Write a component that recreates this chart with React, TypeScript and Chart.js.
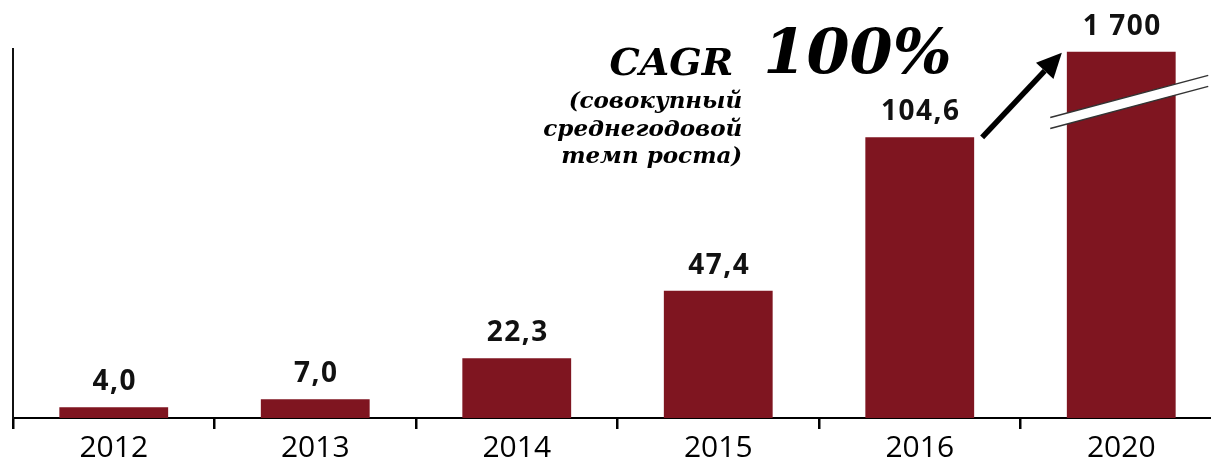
import React, { useEffect, useRef } from "react";
import { Chart, registerables } from "chart.js";

Chart.register(...registerables);

// ---- data ----
const categories = ["2012", "2013", "2014", "2015", "2016", "2020"];
const values = [4.0, 7.0, 22.3, 47.4, 104.6, 1700];
const valueLabels = ["4,0", "7,0", "22,3", "47,4", "104,6", "1 700"];
const brokenIndex = 5; // the 2020 bar is drawn on a broken axis
const axisMax = 137.5;
const brokenBarValue = 136.5; // visible height of the broken bar
const breakAt = 117; // where the break marks cross the broken bar
const cagrTitle = "CAGR";
const cagrValue = "100%";
const cagrNote = ["(совокупный", "среднегодовой", "темп роста)"];
const barColor = "#7F1520";

const displayValues = values.map((v, i) => (i === brokenIndex ? brokenBarValue : v));

const annotations = {
  id: "annotations",
  afterDatasetsDraw(chart: any) {
    const ctx: any = chart.ctx;
    const meta = chart.getDatasetMeta(0);
    const xs = chart.scales.x;
    const ys = chart.scales.y;
    const top = chart.chartArea.top;

    // break marks on the broken bar
    const bb = meta.data[brokenIndex];
    const yb = ys.getPixelForValue(breakAt);
    const x1 = bb.x - 71;
    const x2 = bb.x + 87;
    const slope = -0.266;
    const half = 5.5;
    const yAt = (x: number) => yb + (x - bb.x) * slope;
    ctx.save();
    ctx.beginPath();
    ctx.moveTo(x1, yAt(x1) - half);
    ctx.lineTo(x2, yAt(x2) - half);
    ctx.lineTo(x2, yAt(x2) + half);
    ctx.lineTo(x1, yAt(x1) + half);
    ctx.closePath();
    ctx.fillStyle = "#ffffff";
    ctx.fill();
    ctx.strokeStyle = "#333";
    ctx.lineWidth = 1.5;
    ctx.beginPath();
    ctx.moveTo(x1, yAt(x1) - half);
    ctx.lineTo(x2, yAt(x2) - half);
    ctx.moveTo(x1, yAt(x1) + half);
    ctx.lineTo(x2, yAt(x2) + half);
    ctx.stroke();
    ctx.restore();

    // value labels
    ctx.save();
    ctx.font = "bold 28px 'Open Sans'";
    ctx.letterSpacing = "1.5px";
    ctx.fillStyle = "#111";
    ctx.textAlign = "center";
    ctx.textBaseline = "middle";
    meta.data.forEach((el: any, i: number) => {
      ctx.fillText(valueLabels[i], el.x + 1, el.y - 25);
    });
    ctx.restore();

    // arrow from 2016 bar to 2020 bar
    const a = meta.data[brokenIndex - 1];
    const sx = a.x + a.width / 2 + 8;
    const sy = a.y;
    const ex = bb.x - bb.width / 2 - 5;
    const ey = bb.y + 1;
    const ang = Math.atan2(ey - sy, ex - sx);
    const headLen = 25;
    const headW = 12;
    const bx = ex - headLen * Math.cos(ang);
    const by = ey - headLen * Math.sin(ang);
    ctx.save();
    ctx.strokeStyle = "#000";
    ctx.fillStyle = "#000";
    ctx.lineWidth = 5.5;
    ctx.beginPath();
    ctx.moveTo(sx, sy);
    ctx.lineTo(bx, by);
    ctx.stroke();
    ctx.beginPath();
    ctx.moveTo(ex, ey);
    ctx.lineTo(bx + headW * Math.sin(ang), by - headW * Math.cos(ang));
    ctx.lineTo(bx - headW * Math.sin(ang), by + headW * Math.cos(ang));
    ctx.closePath();
    ctx.fill();
    ctx.restore();

    // CAGR text
    const cx = xs.getPixelForValue(3);
    ctx.save();
    ctx.fillStyle = "#000";
    ctx.textBaseline = "alphabetic";
    ctx.textAlign = "right";
    ctx.font = "bold italic 38px 'DejaVu Serif'";
    ctx.fillText(cagrTitle, cx + 15, top + 26);
    ctx.textAlign = "left";
    ctx.font = "bold italic 62px 'DejaVu Serif'";
    ctx.fillText(cagrValue, cx + 45, top + 24);
    ctx.textAlign = "right";
    ctx.font = "bold italic 23px 'DejaVu Serif'";
    cagrNote.forEach((line, i) => {
      ctx.fillText(line, cx + 24, top + 59 + i * 27.5);
    });
    ctx.restore();
  },
};

export default function App() {
  const ref = useRef<HTMLCanvasElement>(null);
  useEffect(() => {
    document.body.style.margin = "0";
    document.body.style.overflow = "hidden";
    const chart = new Chart(ref.current!, {
      type: "bar",
      data: {
        labels: categories,
        datasets: [
          {
            data: displayValues,
            backgroundColor: barColor,
            borderWidth: 0,
            barPercentage: 0.54,
            categoryPercentage: 1.0,
          },
        ],
      },
      options: {
        responsive: false,
        animation: false,
        layout: { padding: { left: 13, right: 18, top: 49, bottom: 0 } },
        plugins: { legend: { display: false }, tooltip: { enabled: false } },
        scales: {
          x: {
            offset: true,
            grid: {
              display: true,
              drawOnChartArea: false,
              drawTicks: true,
              tickLength: 11,
              tickColor: "#000",
              lineWidth: 2.5,
              tickWidth: 2.5,
              offset: true,
            },
            border: { display: true, color: "#000", width: 2 },
            ticks: { color: "#000", font: { family: "'Open Sans'", size: 30 }, padding: 1 },
            afterFit: (s: any) => {
              s.height = 50;
            },
          },
          y: {
            min: 0,
            max: axisMax,
            grid: { display: false },
            ticks: { display: false },
            border: { display: true, color: "#111", width: 2 },
            afterFit: (s: any) => {
              s.width = 0;
            },
          },
        },
      },
      plugins: [annotations],
    });
    return () => chart.destroy();
  }, []);
  return (
    <div style={{ width: 1211, height: 468, overflow: "hidden", position: "relative" }}>
      <canvas ref={ref} width={1240} height={468} style={{ display: "block" }} />
    </div>
  );
}
